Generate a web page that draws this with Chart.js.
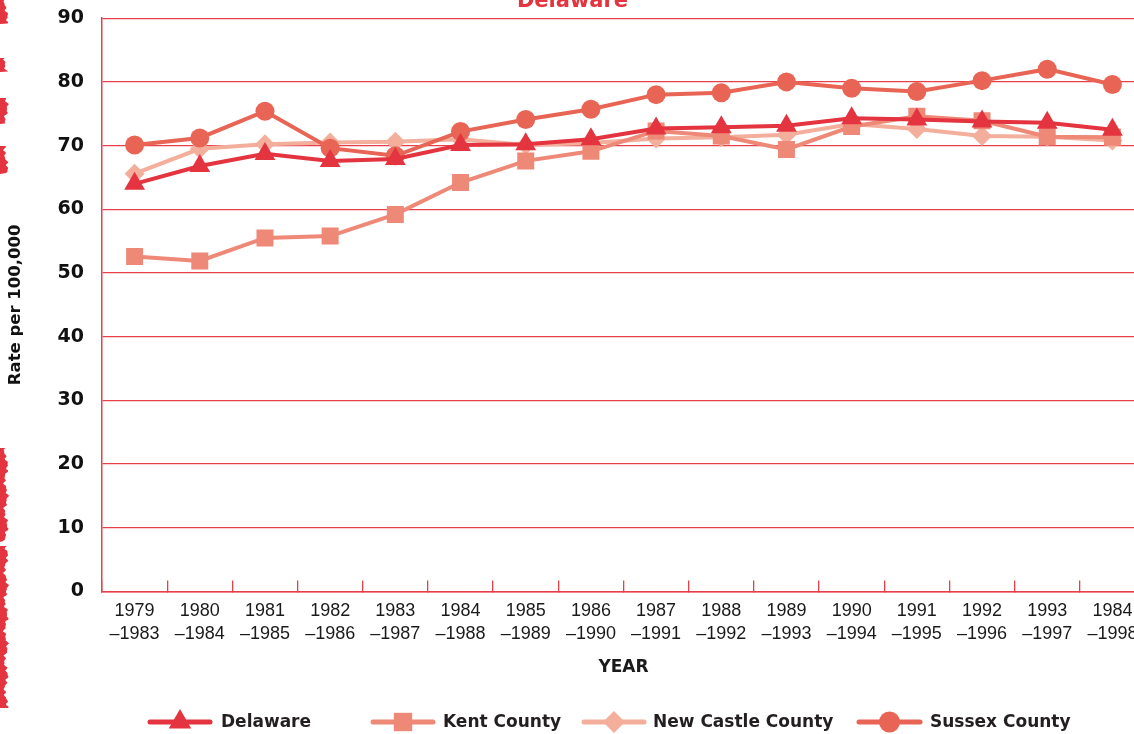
<!DOCTYPE html>
<html>
<head>
<meta charset="utf-8">
<script src="https://cdn.jsdelivr.net/npm/chart.js@4.4.1/dist/chart.umd.min.js"></script>
<style>
  html, body { margin: 0; padding: 0; background: #ffffff; overflow: hidden; width: 1134px; height: 734px; }
  #wrap { position: absolute; left: 0; top: -20px; width: 1158px; height: 754px; }
</style>
</head>
<body>
<div id="wrap"><canvas id="c" width="1158" height="754"></canvas></div>
<script>
// Five-year periods (two-line tick labels)
const categories = [
  ['1979', '–1983'], ['1980', '–1984'], ['1981', '–1985'], ['1982', '–1986'],
  ['1983', '–1987'], ['1984', '–1988'], ['1985', '–1989'], ['1986', '–1990'],
  ['1987', '–1991'], ['1988', '–1992'], ['1989', '–1993'], ['1990', '–1994'],
  ['1991', '–1995'], ['1992', '–1996'], ['1993', '–1997'], ['1984', '–1998']
];

// Rates per 100,000
const delaware  = [64.0, 66.8, 68.7, 67.6, 67.9, 70.1, 70.2, 71.0, 72.7, 72.9, 73.1, 74.3, 74.1, 73.8, 73.6, 72.5];
const kent      = [52.6, 51.9, 55.5, 55.8, 59.2, 64.2, 67.6, 69.1, 72.3, 71.5, 69.4, 73.0, 74.6, 73.9, 71.4, 71.3];
const newCastle = [65.6, 69.5, 70.2, 70.5, 70.6, 71.0, 70.1, 70.4, 71.1, 71.3, 71.7, 73.4, 72.6, 71.5, 71.4, 70.8];
const sussex    = [70.1, 71.2, 75.4, 69.6, 68.4, 72.2, 74.1, 75.7, 78.0, 78.3, 80.0, 79.0, 78.5, 80.2, 82.0, 79.6];

const seriesNames = ['Delaware', 'Kent County', 'New Castle County', 'Sussex County'];
const yTicks = [0, 10, 20, 30, 40, 50, 60, 70, 80, 90];

const RED = '#E3343F';
const GRID = '#E8404A';

function lineSet(label, data, color, style, radius, order) {
  return {
    label, data, order,
    borderColor: color, backgroundColor: color,
    borderWidth: 4,
    pointStyle: style, pointRadius: radius, pointHoverRadius: radius,
    pointBackgroundColor: color, pointBorderColor: color, pointBorderWidth: 0,
    tension: 0, fill: false
  };
}

// Legend row drawn under the axis title
const legendLayout = [
  { x0: 150, x1: 210, tx: 221 },
  { x0: 373, x1: 433, tx: 443 },
  { x0: 584, x1: 644, tx: 653 },
  { x0: 859, x1: 920, tx: 930 }
];
const legendY = 742;

const bottomLegend = {
  id: 'bottomLegend',
  afterDraw(chart) {
    const ctx = chart.ctx;
    ctx.save();
    chart.data.datasets.forEach((ds, i) => {
      const L = legendLayout[i];
      ctx.strokeStyle = ds.borderColor;
      ctx.lineWidth = 5;
      ctx.lineCap = 'round';
      ctx.beginPath();
      ctx.moveTo(L.x0, legendY);
      ctx.lineTo(L.x1, legendY);
      ctx.stroke();
      ctx.fillStyle = ds.backgroundColor;
      ctx.strokeStyle = ds.borderColor;
      Chart.helpers.drawPoint(ctx, { pointStyle: ds.pointStyle, radius: ds.pointRadius + 1, rotation: 0, borderWidth: 0 }, (L.x0 + L.x1) / 2, legendY);
      ctx.fillStyle = '#231f20';
      ctx.font = 'bold 17px "DejaVu Sans"';
      ctx.textBaseline = 'middle';
      ctx.textAlign = 'left';
      ctx.fillText(ds.label, L.tx, legendY + 1);
    });
    ctx.restore();
  }
};

// Rough red page edge along the left side
const edgeSegments = [[18, 44], [78, 92], [118, 144], [166, 194], [468, 562], [566, 728]];
const roughEdge = {
  id: 'roughEdge',
  afterDraw(chart) {
    const ctx = chart.ctx;
    ctx.save();
    ctx.fillStyle = RED;
    edgeSegments.forEach(([a, b]) => {
      ctx.beginPath();
      ctx.moveTo(0, a);
      for (let y = a; y <= b; y += 1.5) {
        const w = 6 + 1.5 * Math.sin(y * 0.21) + 1.0 * Math.sin(y * 0.77) + 0.8 * Math.sin(y * 2.9);
        ctx.lineTo(w, y);
      }
      ctx.lineTo(0, b);
      ctx.closePath();
      ctx.fill();
    });
    ctx.restore();
  }
};

new Chart(document.getElementById('c'), {
  type: 'line',
  data: {
    labels: categories,
    datasets: [
      lineSet(seriesNames[0], delaware,  '#E3343F', 'triangle', 12, 0),
      lineSet(seriesNames[1], kent,      '#EE8877', 'rect',     12, 1),
      lineSet(seriesNames[2], newCastle, '#F3AE9C', 'rectRot',  10, 3),
      lineSet(seriesNames[3], sussex,    '#E86556', 'circle',   9.5, 2)
    ]
  },
  plugins: [bottomLegend, roughEdge],
  options: {
    responsive: false,
    animation: false,
    devicePixelRatio: 1,
    layout: { padding: { left: 0, right: 13, top: 0, bottom: 56 } },
    plugins: {
      legend: { display: false },
      tooltip: { enabled: false },
      title: {
        display: true,
        text: 'Delaware',
        color: RED,
        font: { family: 'DejaVu Sans', weight: 'bold', size: 21 },
        padding: { top: 9, bottom: 4 }
      }
    },
    scales: {
      x: {
        type: 'category',
        offset: true,
        grid: { offset: true, drawOnChartArea: false, drawTicks: true, tickLength: -11, color: GRID, lineWidth: 1.3 },
        border: { display: true, color: GRID, width: 1.5 },
        ticks: {
          autoSkip: false, maxRotation: 0, minRotation: 0,
          color: '#1a1a1a', padding: 19,
          font: { family: 'Liberation Sans', size: 18, lineHeight: 1.28 }
        },
        title: {
          display: true, text: 'YEAR', color: '#1a1a1a',
          font: { family: 'DejaVu Sans', weight: 'bold', size: 17 },
          padding: { top: -7, bottom: 0 }
        }
      },
      y: {
        min: 0, max: 90,
        afterFit(scale) { scale.width = 102; },
        afterBuildTicks(scale) { scale.ticks = yTicks.map(v => ({ value: v })); },
        grid: { color: GRID, lineWidth: 1.3, drawTicks: false },
        border: { display: true, color: GRID, width: 1.5 },
        ticks: {
          color: '#111111', padding: 18,
          font: { family: 'DejaVu Sans', weight: 'bold', size: 19 }
        },
        title: {
          display: true, text: 'Rate per 100,000', color: '#111111',
          font: { family: 'DejaVu Sans', weight: 'bold', size: 16.5 },
          padding: { top: 6, bottom: 0 }
        }
      }
    }
  }
});
</script>
</body>
</html>
